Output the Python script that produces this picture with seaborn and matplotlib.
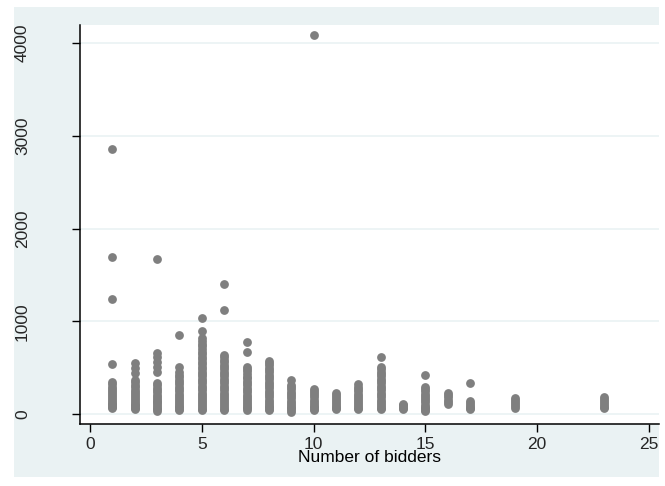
import pandas as pd
import seaborn as sns
import matplotlib.pyplot as plt
from matplotlib.patches import Rectangle

# values, one list per number of bidders
b1 = [2857, 1693, 1243, 539, 342, 318, 295, 270, 248, 225, 200, 180, 160, 140, 122, 105, 90, 75, 60]
b2 = [553, 496, 445, 367, 340, 315, 290, 262, 240, 215, 190, 170, 150, 130, 110, 92, 75, 60, 50]
b3 = [1675, 661, 611, 564, 503, 456, 334, 310, 285, 260, 235, 210, 188, 165, 145, 125, 105, 85, 68, 50, 32]
b4 = [855, 503, 456, 420, 395, 370, 345, 320, 295, 270, 245, 220, 198, 175, 152, 130, 110, 90, 70, 55, 45]
b5 = [1038, 898, 819, 790, 760, 730, 700, 672, 645, 618, 590, 562, 535, 508, 480, 455, 430, 405,
      380, 355, 330, 305, 280, 255, 230, 205, 180, 158, 135, 115, 95, 75, 58, 45]
b6 = [1399, 1118, 636, 610, 585, 560, 533, 508, 482, 455, 430, 405, 380, 355, 330, 305, 280, 255,
      230, 205, 180, 158, 135, 115, 95, 75, 58, 43]
b7 = [780, 672, 510, 485, 460, 430, 400, 385, 360, 335, 310, 285, 260, 235, 210, 185, 162, 140, 118, 98, 78, 60, 45]
b8 = [575, 550, 525, 500, 475, 450, 425, 400, 375, 350, 325, 300, 275, 250, 225, 200, 178, 155,
      132, 110, 90, 70, 55, 45]
b9 = [367, 313, 290, 265, 240, 215, 190, 168, 145, 122, 100, 80, 60, 40, 25]
b10 = [4086, 266, 245, 222, 200, 178, 155, 132, 110, 90, 70, 55, 45]
b11 = [230, 208, 185, 162, 140, 118, 96, 75, 60, 50]
b12 = [320, 295, 270, 245, 220, 195, 172, 150, 128, 106, 85, 65, 50]
b13 = [618, 506, 480, 455, 430, 405, 380, 355, 330, 305, 280, 255, 230, 205, 180, 155, 132, 110, 88, 68, 50]
b14 = [111, 95, 80, 65, 50]
b15 = [420, 294, 270, 245, 220, 195, 170, 148, 125, 102, 80, 60, 45, 32]
b16 = [223, 200, 178, 155, 130, 105]
b17 = [338, 137, 115, 95, 75, 60, 50]
b19 = [169, 148, 128, 108, 88, 68]
b23 = [180, 158, 136, 114, 92, 75, 61]

groups = {1: b1, 2: b2, 3: b3, 4: b4, 5: b5, 6: b6, 7: b7, 8: b8, 9: b9, 10: b10,
          11: b11, 12: b12, 13: b13, 14: b14, 15: b15, 16: b16, 17: b17, 19: b19, 23: b23}

xticks = [0, 5, 10, 15, 20, 25]
yticks = [0, 1000, 2000, 3000, 4000]

rows = []
for n, vals in groups.items():
    for v in vals:
        rows.append((n, v))
df = pd.DataFrame(rows, columns=['bidders', 'value'])

sns.set_theme(style='white')
plt.rcParams['font.family'] = ['Liberation Sans', 'DejaVu Sans']

bg = '#eaf2f3'
fig = plt.figure(figsize=(6.65, 4.86), dpi=100)
fig.patch.set_facecolor('white')
fig.patches.append(Rectangle((14 / 665, 1 - 477 / 486), 645 / 665, 470 / 486,
                             transform=fig.transFigure, facecolor=bg, edgecolor='none', zorder=-5))
ax = fig.add_axes([80 / 665, 1 - 424 / 486, 579 / 665, 399 / 486])
ax.set_zorder(1)
ax.set_facecolor('white')

sns.scatterplot(data=df, x='bidders', y='value', ax=ax, color='#7f7f7f',
                s=40, linewidth=0, legend=False, zorder=3)

ax.set_xlim(-0.45, 25.45)
ax.set_ylim(-108, 4195)
ax.set_xticks(xticks)
ax.set_yticks(yticks)
ax.yaxis.grid(True, color=bg, linewidth=1.2)
ax.xaxis.grid(False)

for s in ['top', 'right']:
    ax.spines[s].set_visible(False)
for s in ['left', 'bottom']:
    ax.spines[s].set_color('black')
    ax.spines[s].set_linewidth(1.1)

ax.tick_params(axis='x', direction='out', length=6, width=1, color='black',
               labelsize=12.5, pad=3, bottom=True)
ax.tick_params(axis='y', direction='out', length=6, width=1, color='black',
               labelsize=12.5, pad=30, left=True)
for lab in ax.get_yticklabels():
    lab.set_rotation(90)
    lab.set_va('center')

ax.set_xlabel('Number of bidders', fontsize=12.5, labelpad=-1, color='black')
ax.set_ylabel('')

fig.savefig('out.png', dpi=100, facecolor=fig.get_facecolor())
